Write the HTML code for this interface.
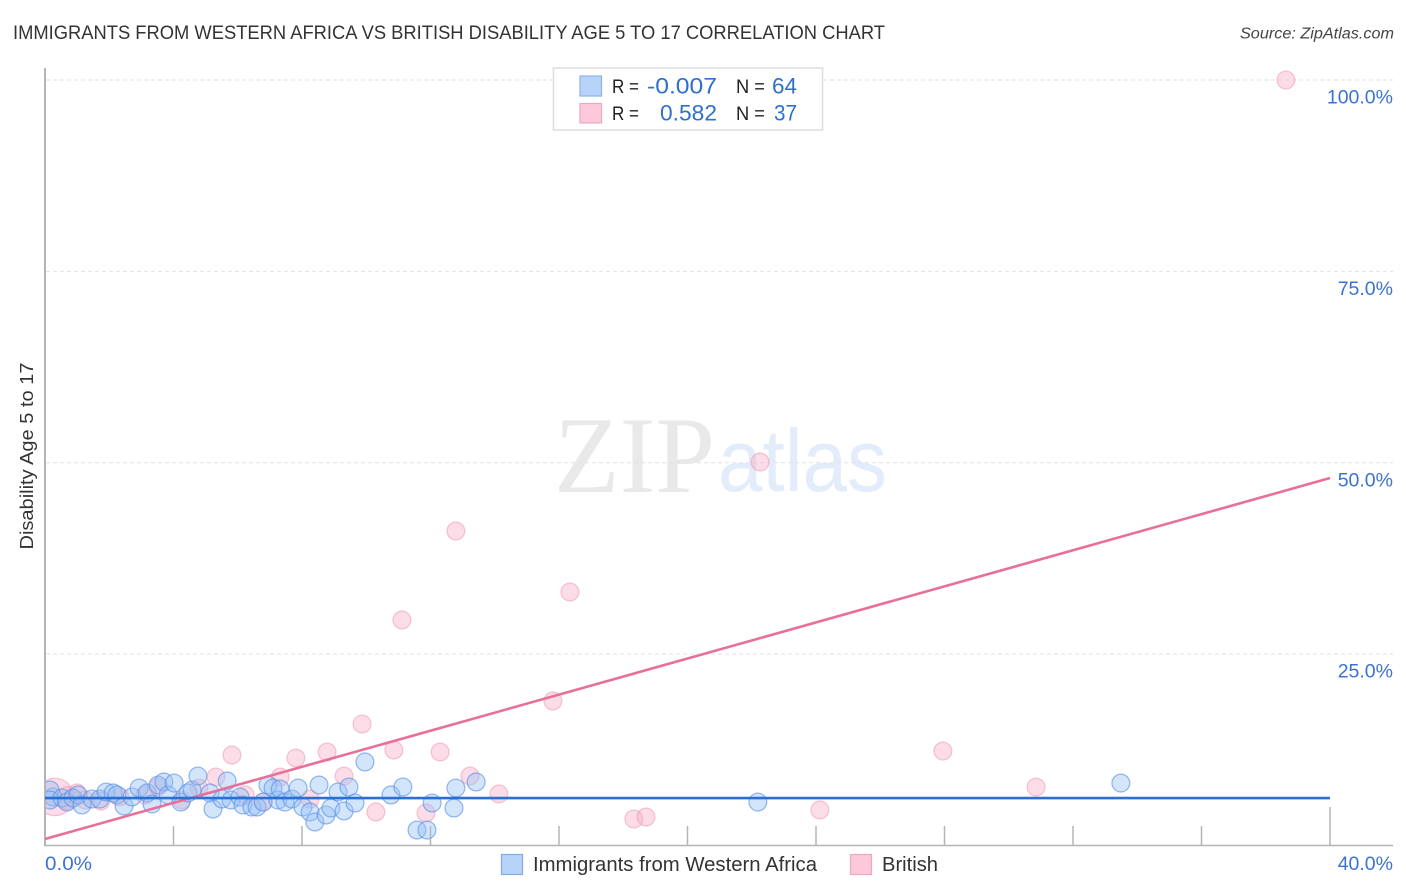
<!DOCTYPE html>
<html lang="en">
<head>
<meta charset="utf-8">
<title>Immigrants from Western Africa vs British Disability Age 5 to 17 Correlation Chart</title>
<style>
html,body{margin:0;padding:0;background:#fff;}
svg{display:block;font-family:"Liberation Sans",sans-serif;}
</style>
</head>
<body>
<svg id="chart" width="1406" height="892" viewBox="0 0 1406 892" xmlns="http://www.w3.org/2000/svg">
  <defs>
    <clipPath id="plot-clip"><rect x="46" y="60" width="1350" height="786"/></clipPath>
  </defs>
  <rect x="0" y="0" width="1406" height="892" fill="#fff"/>
  <text x="13" y="39" font-size="19" fill="#333" textLength="872" lengthAdjust="spacingAndGlyphs">IMMIGRANTS FROM WESTERN AFRICA VS BRITISH DISABILITY AGE 5 TO 17 CORRELATION CHART</text>
  <text x="1394" y="38.5" font-size="15.5" font-style="italic" fill="#444" text-anchor="end" textLength="154" lengthAdjust="spacingAndGlyphs">Source: ZipAtlas.com</text>

  <g>
    <text x="554" y="492" font-family="'Liberation Serif',serif" font-size="109" fill="#e9e9e9" textLength="161" lengthAdjust="spacingAndGlyphs">ZIP</text>
    <text x="718" y="491" font-size="88" fill="#e3ecfa" textLength="169" lengthAdjust="spacingAndGlyphs">atlas</text>
  </g>

  <g id="grid"></g>
  <g id="axes"></g>
  <g id="points-british" clip-path="url(#plot-clip)"></g>
  <g id="points-africa" clip-path="url(#plot-clip)"></g>
  <g id="trends"></g>
  <g id="y-labels"></g>
  <g id="x-labels"></g>

  <text transform="translate(33,456) rotate(-90)" font-size="18" fill="#333" text-anchor="middle" textLength="187" lengthAdjust="spacingAndGlyphs">Disability Age 5 to 17</text>

  <g>
    <rect x="553.5" y="68" width="269" height="62" fill="#fff" stroke="#ddd" stroke-width="1.5"/>
    <rect x="580" y="76" width="21.5" height="20" fill="#b8d3f8" stroke="#8db4ea" stroke-width="1.2"/>
    <rect x="580" y="103.5" width="21.5" height="19.5" fill="#fcc8da" stroke="#f0a8c0" stroke-width="1.2"/>
    <text x="612" y="93" font-size="19.5" fill="#222" textLength="27" lengthAdjust="spacingAndGlyphs">R =</text>
    <text x="647" y="93.5" font-size="22" fill="#2f6fcf" textLength="70" lengthAdjust="spacingAndGlyphs">-0.007</text>
    <text x="736" y="93" font-size="19.5" fill="#222" textLength="29" lengthAdjust="spacingAndGlyphs">N =</text>
    <text x="772" y="93.5" font-size="22" fill="#2f6fcf" textLength="25" lengthAdjust="spacingAndGlyphs">64</text>
    <text x="612" y="120" font-size="19.5" fill="#222" textLength="27" lengthAdjust="spacingAndGlyphs">R =</text>
    <text x="660" y="120.5" font-size="22" fill="#2f6fcf" textLength="57" lengthAdjust="spacingAndGlyphs">0.582</text>
    <text x="736" y="120" font-size="19.5" fill="#222" textLength="29" lengthAdjust="spacingAndGlyphs">N =</text>
    <text x="774" y="120.5" font-size="22" fill="#2f6fcf" textLength="23" lengthAdjust="spacingAndGlyphs">37</text>
  </g>

  <g>
    <rect x="501.5" y="854.5" width="21" height="20" fill="#b8d3f8" stroke="#7fabe6" stroke-width="1.2"/>
    <text x="533" y="871" font-size="20" fill="#333" textLength="284" lengthAdjust="spacingAndGlyphs">Immigrants from Western Africa</text>
    <rect x="850.5" y="854.5" width="21" height="20" fill="#fcc8da" stroke="#f0a8c0" stroke-width="1.2"/>
    <text x="882" y="871" font-size="20" fill="#333" textLength="56" lengthAdjust="spacingAndGlyphs">British</text>
  </g>
</svg>

<script>
const xTickValues = [0, 4, 8, 12, 16, 20, 24, 28, 32, 36, 40];
const yTickValues = [25, 50, 75, 100];
const yTickLabels = ["25.0%", "50.0%", "75.0%", "100.0%"];
const xEndLabels = ["0.0%", "40.0%"];

const africaX = [0.25,0.16,0.16,0.53,0.68,0.87,1.03,1.15,1.46,1.71,1.90,2.12,2.24,2.46,2.71,2.93,3.18,3.33,3.52,3.70,3.83,4.02,4.23,4.45,4.58,4.76,5.14,5.23,5.51,5.67,5.79,6.07,6.16,6.44,6.60,6.79,6.94,7.10,7.25,7.32,7.47,7.69,7.88,8.03,8.25,8.40,8.53,8.75,8.90,9.12,9.31,9.46,9.65,9.96,10.77,11.14,11.58,11.89,12.05,12.73,12.79,13.42,22.19,33.49];
const africaY = [6.34,7.25,5.94,6.2,5.68,6.2,6.6,5.29,6.07,6.07,6.99,6.86,6.6,5.16,6.34,7.51,6.86,5.42,7.9,8.3,6.6,8.16,5.68,6.86,7.25,9.08,6.86,4.77,6.07,8.43,5.94,6.34,5.29,5.03,5.03,5.68,7.9,7.51,5.94,7.38,5.68,6.07,7.51,5.03,4.38,3.07,7.9,3.98,4.9,6.99,4.51,7.64,5.55,10.91,6.6,7.64,2.02,2.02,5.55,4.9,7.51,8.3,5.68,8.16];

const britishX = [0.31,0.72,1.0,1.25,1.74,2.33,3.11,3.52,4.26,4.79,5.32,5.82,6.23,6.79,7.32,7.81,8.25,8.78,9.31,9.87,10.3,10.86,11.11,11.86,12.3,12.79,13.23,14.13,15.81,16.34,18.33,18.71,22.26,24.12,27.95,30.85,38.63];
const britishY = [6.34,6.2,6.86,5.94,5.81,6.34,6.6,7.64,5.94,7.51,8.95,11.82,6.6,5.68,8.95,11.43,6.07,12.21,9.08,15.87,4.38,12.47,29.46,4.25,12.21,41.08,9.08,6.73,18.88,33.11,3.46,3.72,50.1,4.64,12.34,7.64,100];
const britishWeight = [2.1,1.3,1,1,1,1,1,1,1,1,1,1,1,1,1,1,1,1,1,1,1,1,1,1,1,1,1,1,1,1,1,1,1,1,1,1,1];

const africaTrend = [6.2, 6.2];
const britishTrend = [0.85, 48];
const trendDomain = [0, 40];

const SVG_NS = "http://www.w3.org/2000/svg";
function xScale(v) { return 45 + v * (1330 - 45) / 40; }
function yScale(v) { return 845.5 - v * (845.5 - 80) / 100; }
function make(parentId, tag, attrs, text) {
  const el = document.createElementNS(SVG_NS, tag);
  Object.keys(attrs).forEach(function (k) { el.setAttribute(k, attrs[k]); });
  if (text !== undefined) el.textContent = text;
  document.getElementById(parentId).appendChild(el);
  return el;
}

yTickValues.forEach(function (v) {
  const line = make("grid", "line", { x1: 46, x2: 1393, y1: yScale(v), y2: yScale(v), stroke: "#e2e2e2", "stroke-width": 1, "stroke-dasharray": "4 3" });
  
  
});

const yAxisLine = make("axes", "line", { x1: 45, x2: 45, y1: 68, y2: 846, stroke: "#b5b5b5", "stroke-width": 2 });


const xAxisLine = make("axes", "line", { x1: 44, x2: 1393, y1: 845.5, y2: 845.5, stroke: "#b5b5b5", "stroke-width": 1.5 });


xTickValues.slice(1).forEach(function (v, i, all) {
  const tick = make("axes", "line", { x1: xScale(v), x2: xScale(v), y1: i === all.length - 1 ? 807 : 826, y2: 845, stroke: "#b5b5b5", "stroke-width": 1.5 });
  
  
});

britishX.forEach(function (v, i) {
  const dot = make("points-british", "circle", { cx: xScale(v), cy: yScale(britishY[i]), r: 8.9 * britishWeight[i], fill: "rgba(247,172,196,0.42)", stroke: "rgba(238,155,180,0.55)", "stroke-width": 1.3 });
  
  
});
africaX.forEach(function (v, i) {
  const dot = make("points-africa", "circle", { cx: xScale(v), cy: yScale(africaY[i]), r: 8.9, fill: "rgba(150,192,246,0.42)", stroke: "rgba(90,145,230,0.62)", "stroke-width": 1.3 });
  
  
});

const britishLine = make("trends", "line", { x1: xScale(trendDomain[0]), x2: xScale(trendDomain[1]), y1: yScale(britishTrend[0]), y2: yScale(britishTrend[1]), stroke: "#e96f9b", "stroke-width": 2.6 });


const africaLine = make("trends", "line", { x1: xScale(trendDomain[0]), x2: xScale(trendDomain[1]), y1: yScale(africaTrend[0]), y2: yScale(africaTrend[1]), stroke: "#2a6fd4", "stroke-width": 2.6 });



yTickValues.forEach(function (v, i) {
  const label = make("y-labels", "text", { x: 1393, y: yScale(v) + 23.5, "font-size": 19.5, fill: "#3b73d1", "text-anchor": "end" }, yTickLabels[i]);
  
  
});
const xStart = make("x-labels", "text", { x: 45, y: 870, "font-size": 19.5, fill: "#3b73d1", textLength: 47, lengthAdjust: "spacingAndGlyphs" }, xEndLabels[0]);


const xEnd = make("x-labels", "text", { x: 1393, y: 870, "font-size": 19.5, fill: "#3b73d1", "text-anchor": "end" }, xEndLabels[1]);


</script>
</body>
</html>
